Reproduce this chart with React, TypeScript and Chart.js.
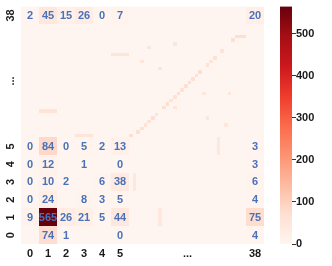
import React, { useEffect, useRef } from 'react';
import { Chart, registerables } from 'chart.js';

Chart.register(...registerables);

// ---------------- data ----------------
const shownIndex = [0, 1, 2, 3, 4, 5, 38];
const xTickLabels = ['0', '1', '2', '3', '4', '5', '...', '38'];
const yTickLabels = ['0', '1', '2', '3', '4', '5', '...', '38'];
const colorbarTicks = [0, 100, 200, 300, 400, 500];
const vMax = 565;

// counts in the shown columns [0,1,2,3,4,5,38]; null = empty cell
const row0 = [null, 74, 1, null, null, 0, 4];
const row1 = [9, 565, 26, 21, 5, 44, 75];
const row2 = [0, 24, null, 8, 3, 5, 4];
const row3 = [0, 10, 2, null, 6, 38, 6];
const row4 = [0, 12, null, 1, null, 0, 3];
const row5 = [0, 84, 0, 5, 2, 13, 3];
const row38 = [2, 45, 15, 26, 0, 7, 20];
const shownRows = [row0, row1, row2, row3, row4, row5, row38];

// [column, row, count] for the compressed middle classes (6..37)
const diagonalCells: [number, number, number][] = [
  [6, 6, 75], [8, 7, 70], [9, 8, 65], [10, 9, 60], [11, 10, 65], [12, 11, 70],
  [13, 12, 60], [15, 14, 70], [16, 15, 75], [17, 16, 60], [18, 17, 65],
  [19, 18, 70], [20, 19, 65], [21, 20, 70], [22, 21, 75], [23, 22, 70],
  [24, 23, 65], [25, 24, 75], [27, 26, 65], [28, 27, 60], [29, 28, 65],
  [31, 30, 60], [34, 33, 70], [35, 34, 70], [36, 34, 70], [37, 34, 70],
];
const offDiagonalCells: [number, number, number][] = [
  [11, 31, 55], [18, 32, 55], [9, 27, 55], [14, 25, 50], [18, 14, 55],
  [26, 18, 50], [33, 18, 50], [27, 11, 50], [32, 9, 50],
  [1, 13, 60], [5, 29, 55], [3, 6, 55], [30, 5, 45], [7, 3, 45], [14, 1, 45],
];

// ---------------- layout helpers ----------------
const X_MID = 6.5;
const Y_MID = 6.37;
const N_MID = 32;

function span(idx: number, mid: number): [number, number] {
  if (idx <= 5) return [idx, idx + 1];
  if (idx === 38) return [6 + mid, 7 + mid];
  const w = mid / N_MID;
  return [6 + (idx - 6) * w, 6 + (idx - 5) * w];
}
const xTickPos = [0.5, 1.5, 2.5, 3.5, 4.5, 5.5, 6 + X_MID / 2, 6.5 + X_MID];
const yTickPos = [0.5, 1.5, 2.5, 3.5, 4.5, 5.5, 6 + Y_MID / 2, 6.5 + Y_MID];

const REDS = ['#fff5f0', '#fee0d2', '#fcbba1', '#fc9272', '#fb6a4a', '#ef3b2c', '#cb181d', '#a50f15', '#67000d'];
function hex(c: string) {
  return [parseInt(c.slice(1, 3), 16), parseInt(c.slice(3, 5), 16), parseInt(c.slice(5, 7), 16)];
}
function reds(v: number) {
  const t = Math.max(0, Math.min(1, v / vMax)) * (REDS.length - 1);
  const i = Math.min(REDS.length - 2, Math.floor(t));
  const f = t - i;
  const a = hex(REDS[i]);
  const b = hex(REDS[i + 1]);
  const c = a.map((av, k) => Math.round(av + (b[k] - av) * f));
  return `rgb(${c[0]},${c[1]},${c[2]})`;
}

const FONT = '"Liberation Sans", Arial, sans-serif';
const ANNOT_COLOR = '#4a72b8';
const TICK_COLOR = '#1a1a1a';

const heatmapPlugin = {
  id: 'heatmap',
  afterDatasetsDraw(chart: any) {
    const { ctx, chartArea } = chart;
    const xs = chart.scales.x;
    const ys = chart.scales.y;
    const gap = chart.scales.gap;
    const cb = chart.scales.cb;
    const rect = (col: number, row: number, color: string) => {
      const [xa, xb] = span(col, X_MID);
      const [ya, yb] = span(row, Y_MID);
      const x0 = Math.round(xs.getPixelForValue(xa));
      const x1 = Math.round(xs.getPixelForValue(xb));
      const y0 = Math.round(ys.getPixelForValue(yb));
      const y1 = Math.round(ys.getPixelForValue(ya));
      ctx.fillStyle = color;
      ctx.fillRect(x0, y0, x1 - x0, y1 - y0);
    };
    ctx.save();
    ctx.fillStyle = reds(0);
    ctx.fillRect(chartArea.left, chartArea.top, chartArea.right - chartArea.left, chartArea.bottom - chartArea.top);
    shownRows.forEach((vals, ri) => {
      vals.forEach((v, ci) => {
        if (v !== null) rect(shownIndex[ci], shownIndex[ri], reds(v));
      });
    });
    [...diagonalCells, ...offDiagonalCells].forEach(([c, r, v]) => rect(c, r, reds(v)));

    ctx.font = `bold 11px ${FONT}`;
    ctx.textAlign = 'center';
    ctx.textBaseline = 'middle';
    ctx.fillStyle = ANNOT_COLOR;
    shownRows.forEach((vals, ri) => {
      vals.forEach((v, ci) => {
        if (v === null) return;
        const [xa, xb] = span(shownIndex[ci], X_MID);
        const [ya, yb] = span(shownIndex[ri], Y_MID);
        ctx.fillText(String(v), xs.getPixelForValue((xa + xb) / 2), ys.getPixelForValue((ya + yb) / 2) + 0.5);
      });
    });

    // rotated y tick labels, placed by the y scale
    ctx.fillStyle = TICK_COLOR;
    yTickPos.forEach((p, i) => {
      ctx.save();
      ctx.translate(10.5, ys.getPixelForValue(p));
      ctx.rotate(-Math.PI / 2);
      ctx.fillText(yTickLabels[i], 0, 0.5);
      ctx.restore();
    });

    // colour bar
    const top = cb.getPixelForValue(vMax);
    const bottom = cb.getPixelForValue(0);
    const grad = ctx.createLinearGradient(0, bottom, 0, top);
    REDS.forEach((c, i) => grad.addColorStop(i / (REDS.length - 1), c));
    ctx.fillStyle = grad;
    ctx.fillRect(gap.right - 12, top, 12, bottom - top);
    ctx.restore();
  },
};

export default function App() {
  const ref = useRef<HTMLCanvasElement>(null);
  useEffect(() => {
    if (!ref.current) return;
    const tickFont = { family: FONT, size: 11, weight: 'bold' as const };
    const chart = new Chart(ref.current, {
      type: 'scatter',
      data: { datasets: [{ data: [], pointRadius: 0 }] },
      options: {
        animation: false,
        responsive: false,
        events: [],
        layout: { padding: { top: 6, left: 0, right: 0, bottom: 0 } },
        plugins: { legend: { display: false }, tooltip: { enabled: false } },
        scales: {
          x: {
            type: 'linear',
            min: 0,
            max: 7 + X_MID,
            grid: { display: false },
            border: { display: false },
            afterBuildTicks: (s: any) => { s.ticks = xTickPos.map((v) => ({ value: v })); },
            afterFit: (s: any) => { s.height = 22; },
            ticks: {
              autoSkip: false,
              maxRotation: 0,
              padding: -5,
              color: TICK_COLOR,
              font: tickFont,
              callback: (_v: any, i: number) => xTickLabels[i],
            },
          },
          y: {
            type: 'linear',
            min: 0,
            max: 7 + Y_MID,
            grid: { display: false },
            border: { display: false },
            afterBuildTicks: (s: any) => { s.ticks = yTickPos.map((v) => ({ value: v })); },
            afterFit: (s: any) => { s.width = 21; },
            ticks: { display: false },
          },
          gap: {
            type: 'linear',
            axis: 'y',
            position: 'right',
            weight: 1,
            grid: { display: false },
            border: { display: false },
            ticks: { display: false },
            afterFit: (s: any) => { s.width = 28; },
          },
          cb: {
            type: 'linear',
            axis: 'y',
            position: 'right',
            weight: 2,
            min: 0,
            max: vMax,
            grid: { display: true, drawOnChartArea: false, tickLength: 4, color: '#333', lineWidth: 1 },
            border: { display: false },
            afterBuildTicks: (s: any) => { s.ticks = colorbarTicks.map((v) => ({ value: v })); },
            afterFit: (s: any) => { s.width = 40; },
            ticks: { padding: 0, color: TICK_COLOR, font: tickFont },
          },
        } as any,
      },
      plugins: [heatmapPlugin],
    });
    return () => chart.destroy();
  }, []);
  return (
    <div style={{ position: 'fixed', left: 0, top: 0, width: 332, height: 266, background: '#fff' }}>
      <canvas ref={ref} width={332} height={266} style={{ display: 'block' }} />
    </div>
  );
}
